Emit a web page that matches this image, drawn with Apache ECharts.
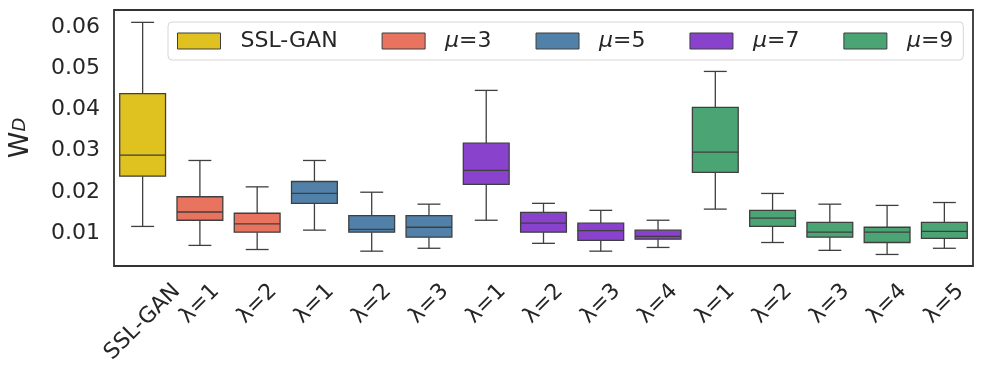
<!DOCTYPE html>
<html>
<head>
<meta charset="utf-8">
<script src="https://cdn.jsdelivr.net/npm/echarts@6/dist/echarts.min.js"></script>
<style>html,body{margin:0;padding:0;background:#fff}#c{width:982px;height:384px}</style>
</head>
<body>
<div id="c"></div>
<script>
// ---- data ----
const categories = ['SSL-GAN','λ=1','λ=2','λ=1','λ=2','λ=3','λ=1','λ=2','λ=3','λ=4','λ=1','λ=2','λ=3','λ=4','λ=5'];
const groupNames = ['SSL-GAN','μ=3','μ=5','μ=7','μ=9'];
const groupOfCategory = [0,1,1,2,2,2,3,3,3,3,4,4,4,4,4];
const whiskerLow  = [0.0116,0.0070,0.0060,0.0107,0.0056,0.0063,0.0131,0.0075,0.0056,0.0065,0.0158,0.0077,0.0058,0.0048,0.0063];
const quartile1   = [0.0238,0.0131,0.0102,0.0172,0.0102,0.0090,0.0218,0.0102,0.0082,0.0085,0.0247,0.0116,0.0090,0.0077,0.0087];
const median      = [0.0289,0.0151,0.0122,0.0196,0.0109,0.0114,0.0252,0.0124,0.0106,0.0092,0.0296,0.0136,0.0102,0.0102,0.0104];
const quartile3   = [0.0438,0.0188,0.0148,0.0225,0.0142,0.0142,0.0318,0.0150,0.0124,0.0107,0.0405,0.0155,0.0126,0.0114,0.0126];
const whiskerHigh = [0.0611,0.0276,0.0212,0.0276,0.0199,0.0170,0.0446,0.0172,0.0155,0.0131,0.0492,0.0196,0.0170,0.0167,0.0174];
const yTicks = [0.01,0.02,0.03,0.04,0.05,0.06];

// ---- style ----
const groupColors = ['#dfc120','#e8735e','#5181a8','#8942cb','#4ba473'];
const edge = '#3f3f3f';
const textColor = '#262626';
const FONT = '"DejaVu Sans", sans-serif';
const LFS = 22;

const chart = echarts.init(document.getElementById('c'), null, {renderer:'canvas'});

// rotated labels centred on their tick (matplotlib style): rich spacers per label
const cv = document.createElement('canvas').getContext('2d');
cv.font = LFS + 'px "DejaVu Sans"';
const labelRich = {};
categories.forEach((c, i) => {
  const w = cv.measureText(c).width;
  const d = (w + LFS) * 0.3536;
  const p = 1.414 * d;
  labelRich['s' + i] = {fontSize: 4, lineHeight: p, height: p};
  labelRich['t' + i] = {fontFamily: FONT, fontSize: LFS, color: textColor, lineHeight: LFS, padding: [0, p, 0, 0]};
});

function renderBox(params, api) {
  const x = api.value(0);
  const lo = api.coord([x, api.value(1)]);
  const q1 = api.coord([x, api.value(2)]);
  const md = api.coord([x, api.value(3)]);
  const q3 = api.coord([x, api.value(4)]);
  const hi = api.coord([x, api.value(5)]);
  const bw = api.size([1, 0])[0] * 0.8;
  const cw = bw / 2;
  const cx = lo[0];
  const ls = {stroke: edge, lineWidth: 1.3};
  const color = api.visual('color');
  return {
    type: 'group',
    children: [
      {type:'line', shape:{x1:cx,y1:lo[1],x2:cx,y2:q1[1]}, style:ls},
      {type:'line', shape:{x1:cx,y1:q3[1],x2:cx,y2:hi[1]}, style:ls},
      {type:'line', shape:{x1:cx-cw/2,y1:lo[1],x2:cx+cw/2,y2:lo[1]}, style:ls},
      {type:'line', shape:{x1:cx-cw/2,y1:hi[1],x2:cx+cw/2,y2:hi[1]}, style:ls},
      {type:'rect', shape:{x:cx-bw/2,y:q3[1],width:bw,height:q1[1]-q3[1]}, style:{fill:color, stroke:edge, lineWidth:1.3}},
      {type:'line', shape:{x1:cx-bw/2,y1:md[1],x2:cx+bw/2,y2:md[1]}, style:ls}
    ]
  };
}

const series = groupNames.map((name, g) => ({
  name: name,
  type: 'custom',
  renderItem: renderBox,
  itemStyle: {color: groupColors[g], borderColor: edge, borderWidth: 1},
  encode: {x: 0, y: [1,2,3,4,5]},
  data: categories.map((c, i) => i).filter(i => groupOfCategory[i] === g)
    .map(i => [i, whiskerLow[i], quartile1[i], median[i], quartile3[i], whiskerHigh[i]]),
  animation: false
}));

chart.setOption({
  animation: false,
  grid: {left: 114, right: 9, top: 10, bottom: 118, outerBoundsMode: 'none', containLabel: false,
    show: true, borderColor: '#333', borderWidth: 1.8, backgroundColor: 'transparent'},
  legend: {
    left: 168, top: 22,
    padding: [8, 10, 8, 9],
    itemWidth: 43, itemHeight: 16, itemGap: 44,
    borderColor: '#d6d6d6', borderWidth: 1, borderRadius: 4,
    backgroundColor: '#fff',
    data: groupNames.map((n, g) => ({name: n, icon: 'rect', itemStyle: {color: groupColors[g], borderColor: edge, borderWidth: 1}})),
    formatter: function (n) { return n === 'SSL-GAN' ? n : '{i|μ}{t|' + n.slice(1) + '}'; },
    textStyle: {
      fontFamily: FONT, fontSize: 22, color: textColor, padding: [0, 0, 0, 15],
      rich: {
        i: {fontFamily: FONT, fontSize: 22, color: textColor, fontStyle: 'italic'},
        t: {fontFamily: FONT, fontSize: 22, color: textColor}
      }
    }
  },
  xAxis: {
    type: 'category',
    data: categories,
    boundaryGap: true,
    axisLine: {show: false},
    axisTick: {show: false},
    splitLine: {show: false},
    axisLabel: {interval: 0, rotate: 45, align: 'center', verticalAlign: 'middle', margin: 14,
      fontFamily: FONT, fontSize: LFS, color: textColor,
      formatter: function (v, i) { return '{s' + i + '| }\n{t' + i + '|' + v + '}'; },
      rich: labelRich}
  },
  yAxis: {
    type: 'value',
    min: 0.0020, max: 0.0641,
    splitNumber: 6,
    axisLine: {show: false},
    axisTick: {show: false},
    splitLine: {show: false},
    axisLabel: {margin: 14, fontFamily: FONT, fontSize: 22, color: textColor,
      showMinLabel: false, showMaxLabel: false,
      formatter: function (v) { return yTicks.some(t => Math.abs(t - v) < 1e-9) ? v.toFixed(2) : ''; }},
    name: '{w|W}{d|D}',
    nameLocation: 'middle',
    nameRotate: 90,
    nameGap: 80,
    nameTextStyle: {
      rich: {
        w: {fontFamily: FONT, fontSize: 27, color: textColor},
        d: {fontFamily: FONT, fontSize: 18, color: textColor, fontStyle: 'italic', verticalAlign: 'middle'}
      }
    }
  },
  series: series
});
</script>
</body>
</html>
